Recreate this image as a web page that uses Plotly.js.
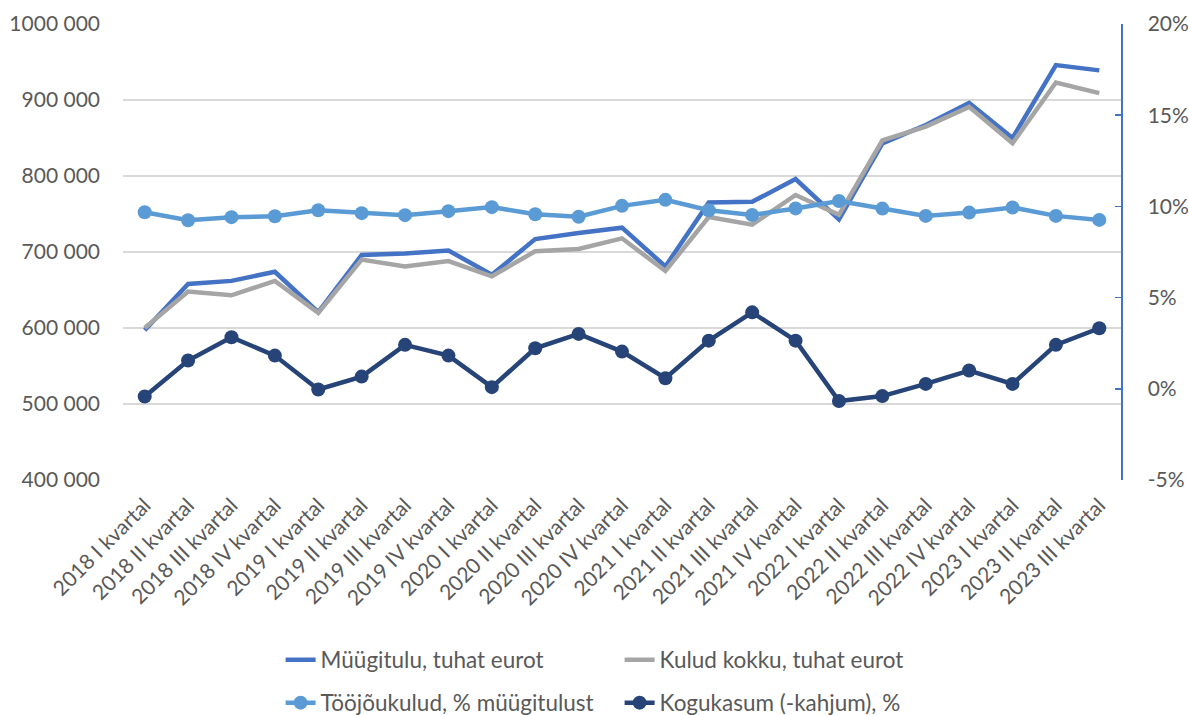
<!DOCTYPE html>
<html>
<head>
<meta charset="utf-8">
<script src="https://cdn.plot.ly/plotly-3.0.1.min.js"></script>
<style>html,body{margin:0;padding:0;background:#fff;}#chart{width:1189px;height:715px;}</style>
</head>
<body>
<div id="chart"></div>
<script>
const categories = ['2018 I kvartal','2018 II kvartal','2018 III kvartal','2018 IV kvartal',
  '2019 I kvartal','2019 II kvartal','2019 III kvartal','2019 IV kvartal',
  '2020 I kvartal','2020 II kvartal','2020 III kvartal','2020 IV kvartal',
  '2021 I kvartal','2021 II kvartal','2021 III kvartal','2021 IV kvartal',
  '2022 I kvartal','2022 II kvartal','2022 III kvartal','2022 IV kvartal',
  '2023 I kvartal','2023 II kvartal','2023 III kvartal'];

const muugitulu = [597000,658000,662000,674000,621000,696000,698000,702000,670000,717000,725000,732000,
  681000,765000,766000,796000,743000,843000,867000,896000,850000,946000,939000];
const kulud = [600000,648000,643000,662000,620000,690000,681000,688000,668000,701000,704000,718000,
  675000,746000,736000,775000,749000,847000,865000,891000,843000,923000,909000];
const toojoukulud = [9.68,9.24,9.41,9.46,9.79,9.63,9.52,9.74,9.96,9.57,9.43,10.03,
  10.36,9.79,9.53,9.89,10.30,9.88,9.48,9.66,9.94,9.48,9.26];
const kogukasum = [-0.42,1.55,2.83,1.82,-0.04,0.67,2.41,1.82,0.09,2.22,3.01,2.04,
  0.58,2.64,4.19,2.64,-0.67,-0.40,0.27,1.00,0.27,2.41,3.32];

const seriesNames = ['Müügitulu, tuhat eurot','Kulud kokku, tuhat eurot',
  'Tööjõukulud, % müügitulust','Kogukasum (-kahjum), %'];

const leftTickVals = [400000,500000,600000,700000,800000,900000,1000000];
const leftTickText = ['400 000','500 000','600 000','700 000','800 000','900 000','1000 000'];
const rightTickVals = [-5,0,5,10,15,20];
const rightTickText = ['-5%','0%','5%','10%','15%','20%'];

const FONT = 'Lato, Liberation Sans, Arial, sans-serif';
const TXT = '#595959';

const traces = [
  {x: categories, y: muugitulu, name: seriesNames[0], type: 'scatter', mode: 'lines',
   line: {color: '#4472C4', width: 4.5}, legend: 'legend', yaxis: 'y'},
  {x: categories, y: kulud, name: seriesNames[1], type: 'scatter', mode: 'lines',
   line: {color: '#A5A5A5', width: 4.5}, legend: 'legend', yaxis: 'y'},
  {x: categories, y: toojoukulud, name: seriesNames[2], type: 'scatter', mode: 'lines+markers',
   line: {color: '#5B9BD5', width: 4.5}, marker: {color: '#5B9BD5', size: 14},
   legend: 'legend2', yaxis: 'y2'},
  {x: categories, y: kogukasum, name: seriesNames[3], type: 'scatter', mode: 'lines+markers',
   line: {color: '#264478', width: 4.5}, marker: {color: '#264478', size: 14},
   legend: 'legend2', yaxis: 'y2'}
];

const legendCommon = {
  orientation: 'h', xref: 'container', yref: 'container',
  xanchor: 'left', yanchor: 'middle', x: 0.236,
  entrywidth: 294, entrywidthmode: 'pixels',
  font: {family: FONT, size: 22.5, color: TXT}, bgcolor: 'rgba(0,0,0,0)',
  itemclick: false, itemdoubleclick: false
};

const layout = {
  width: 1189, height: 715,
  margin: {l: 123, r: 68, t: 24, b: 235, autoexpand: false},
  paper_bgcolor: '#ffffff', plot_bgcolor: '#ffffff',
  font: {family: FONT, size: 20, color: TXT},
  hovermode: false,
  showlegend: true,
  legend: Object.assign({}, legendCommon, {y: 1 - 660 / 715}),
  legend2: Object.assign({}, legendCommon, {y: 1 - 703 / 715}),
  xaxis: {
    type: 'category', tickangle: -45, showgrid: false, zeroline: false,
    showline: false, ticks: '', range: [-0.5, categories.length - 0.5],
    automargin: false, ticklabelstandoff: 8,
    tickfont: {family: FONT, size: 21, color: TXT}
  },
  yaxis: {
    range: [400000, 1000000], tickvals: leftTickVals, ticktext: leftTickText,
    showgrid: true, gridcolor: '#D9D9D9', gridwidth: 1.5, zeroline: false,
    showline: false, ticks: '', ticklabelstandoff: 22, automargin: false,
    tickfont: {family: FONT, size: 21, color: TXT}
  },
  yaxis2: {
    overlaying: 'y', side: 'right', range: [-5, 20],
    tickvals: rightTickVals, ticktext: rightTickText,
    showgrid: false, zeroline: false, showline: true, linecolor: '#4472C4', linewidth: 1.5,
    ticks: 'inside', ticklen: 6, tickcolor: '#4472C4', tickwidth: 1.5,
    ticklabelstandoff: 21, automargin: false,
    tickfont: {family: FONT, size: 21, color: TXT}
  }
};

Plotly.newPlot('chart', traces, layout, {staticPlot: true, displayModeBar: false});
</script>
</body>
</html>
